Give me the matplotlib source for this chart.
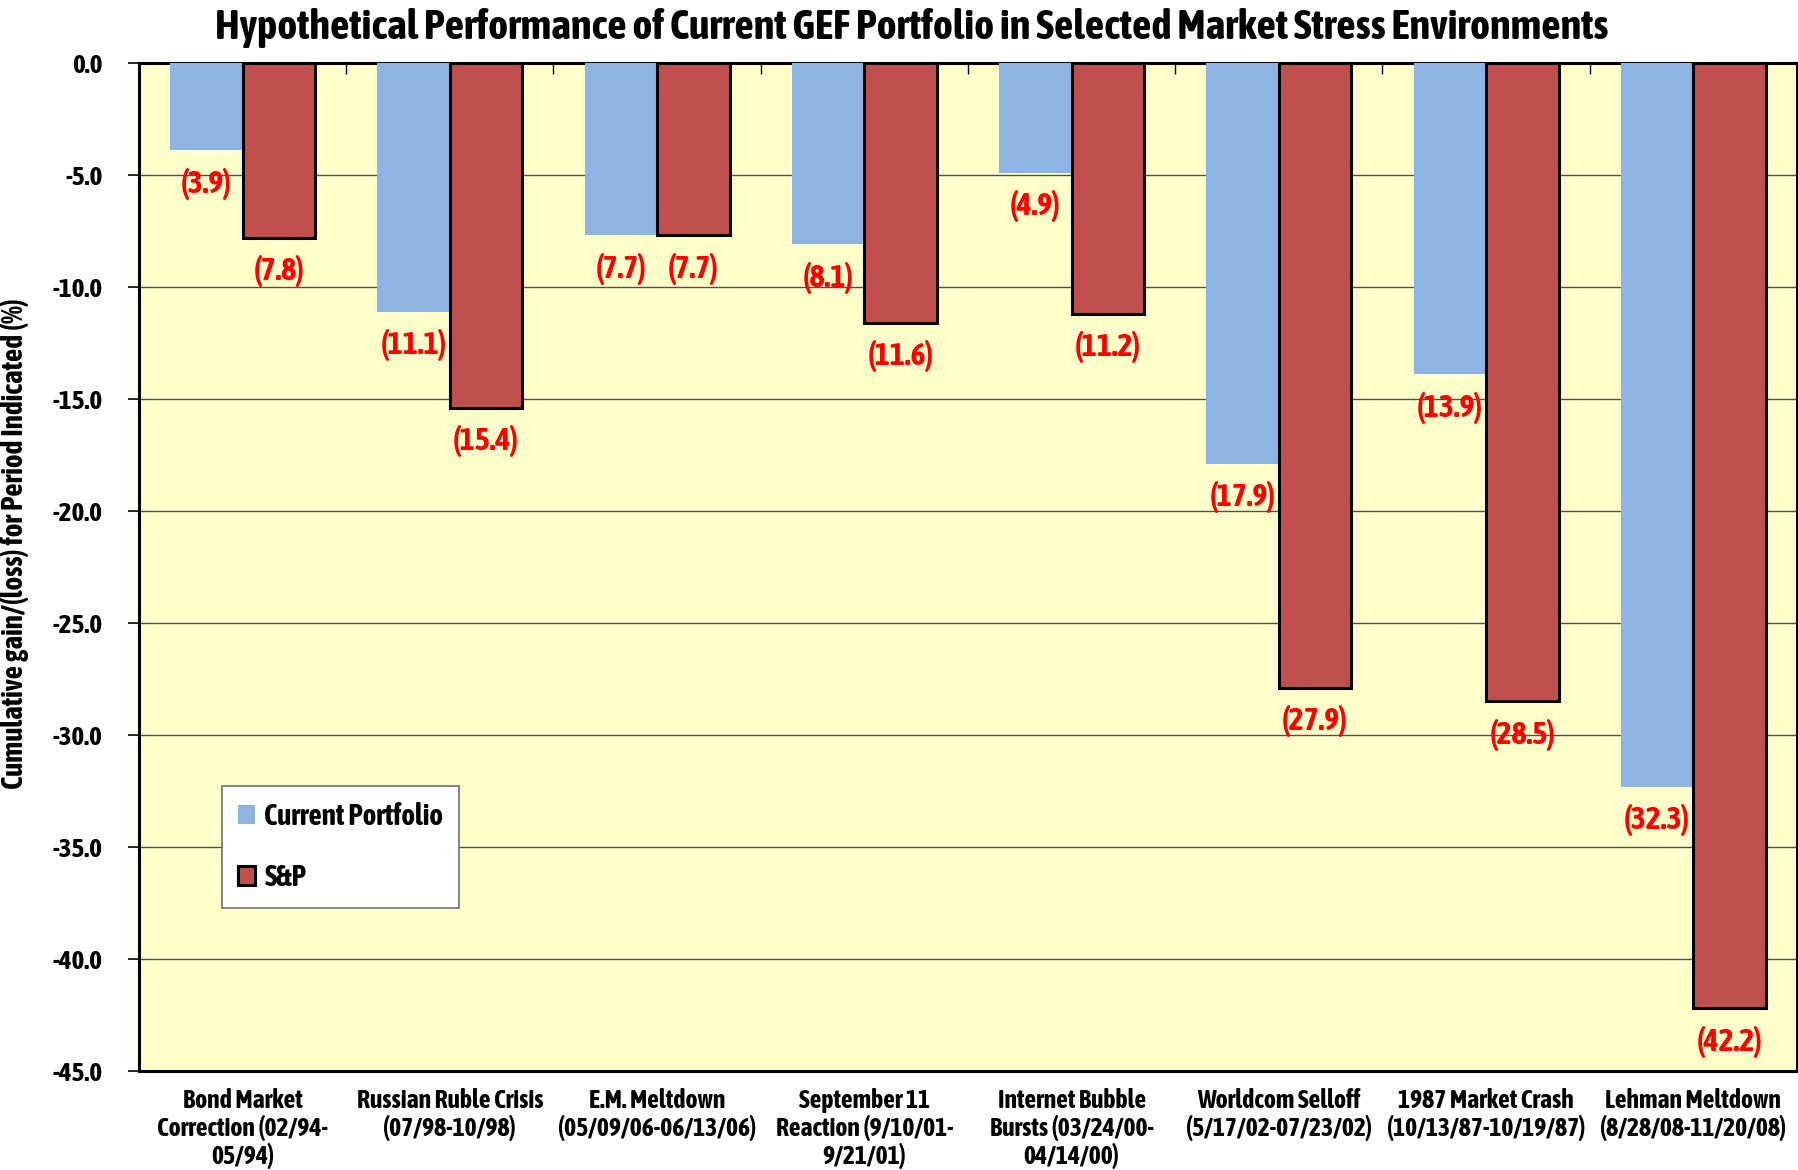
import numpy as np
import matplotlib.pyplot as plt
from matplotlib.ticker import FixedLocator, FuncFormatter

# Data
categories = [
    "Bond Market\nCorrection (02/94-\n05/94)",
    "Russian Ruble Crisis\n(07/98-10/98)",
    "E.M. Meltdown\n(05/09/06-06/13/06)",
    "September 11\nReaction (9/10/01-\n9/21/01)",
    "Internet Bubble\nBursts (03/24/00-\n04/14/00)",
    "Worldcom Selloff\n(5/17/02-07/23/02)",
    "1987 Market Crash\n(10/13/87-10/19/87)",
    "Lehman Meltdown\n(8/28/08-11/20/08)",
]
current_portfolio = [-3.9, -11.1, -7.7, -8.1, -4.9, -17.9, -13.9, -32.3]
sp500 = [-7.8, -15.4, -7.7, -11.6, -11.2, -27.9, -28.5, -42.2]
y_ticks = [0, -5, -10, -15, -20, -25, -30, -35, -40, -45]

BLUE = "#8EB4E3"
RED = "#C0504D"
BG = "#FFFFCC"
FONT = ["Asap Condensed", "Liberation Sans", "DejaVu Sans"]

plt.rcParams["font.family"] = FONT
plt.rcParams["font.weight"] = "bold"

fig = plt.figure(figsize=(17.98, 11.70), dpi=100)
ax = fig.add_axes([0.0773, 0.0846, 0.9221, 0.8616])
ax.set_facecolor(BG)

x = np.arange(len(categories))
w = 0.35
b1 = ax.bar(x - w / 2, current_portfolio, w, color=BLUE, linewidth=0,
            label="Current Portfolio", zorder=3)
b2 = ax.bar(x + w / 2, sp500, w, color=RED, edgecolor="black", linewidth=2.2,
            label="S&P", zorder=3)

for bars in (b1, b2):
    for r in bars:
        v = r.get_height()
        ax.annotate(f"({abs(v):.1f})", (r.get_x() + r.get_width() / 2, v),
                    xytext=(0, -24), textcoords="offset points",
                    ha="center", va="center", color="#FF0000",
                    fontsize=23, fontweight="bold", zorder=4)

ax.set_xlim(-0.5, len(categories) - 0.5)
ax.set_ylim(-45, 0)
ax.set_yticks(y_ticks)
ax.yaxis.set_major_formatter(FuncFormatter(lambda v, p: f"{v:.1f}"))
ax.grid(True, axis="y", color="#505050", linewidth=1.0, zorder=1)

ax.set_xticks(x)
ax.set_xticklabels(categories, fontsize=18.5, fontweight="bold", linespacing=1.1)
ax.tick_params(axis="x", length=0, pad=12)
ax.tick_params(axis="y", length=8, width=1.2, pad=18, labelsize=19.5, direction="out")

# category separators at the zero line (top of the plot)
ax.xaxis.set_minor_locator(FixedLocator(np.arange(0.5, len(categories) - 0.5, 1)))
ax.tick_params(axis="x", which="minor", top=True, bottom=False, direction="in",
               length=8, width=1)

for s in ax.spines.values():
    s.set_linewidth(2.2)
    s.set_color("black")

ax.set_ylabel("Cumulative gain/(loss) for Period Indicated (%)", fontsize=21,
              fontweight="bold")
ax.yaxis.set_label_coords(-0.0665, 0.523)

fig.text(0.507, 0.976, "Hypothetical Performance of Current GEF Portfolio in Selected Market Stress Environments",
         ha="center", va="center", fontsize=30.5, fontweight="bold")

leg = ax.legend(loc="lower left", bbox_to_anchor=(0.05, 0.162), fontsize=21,
                frameon=True, fancybox=False, labelspacing=1.1, handlelength=0.6,
                handleheight=0.6, handletextpad=0.3, borderpad=0.55,
                borderaxespad=0)
leg.get_frame().set_edgecolor("#707070")
leg.get_frame().set_linewidth(1.2)
leg.get_frame().set_facecolor("white")
leg.get_frame().set_alpha(1)
for t in leg.get_texts():
    t.set_fontweight("bold")

fig.savefig("out.png", dpi=100)
